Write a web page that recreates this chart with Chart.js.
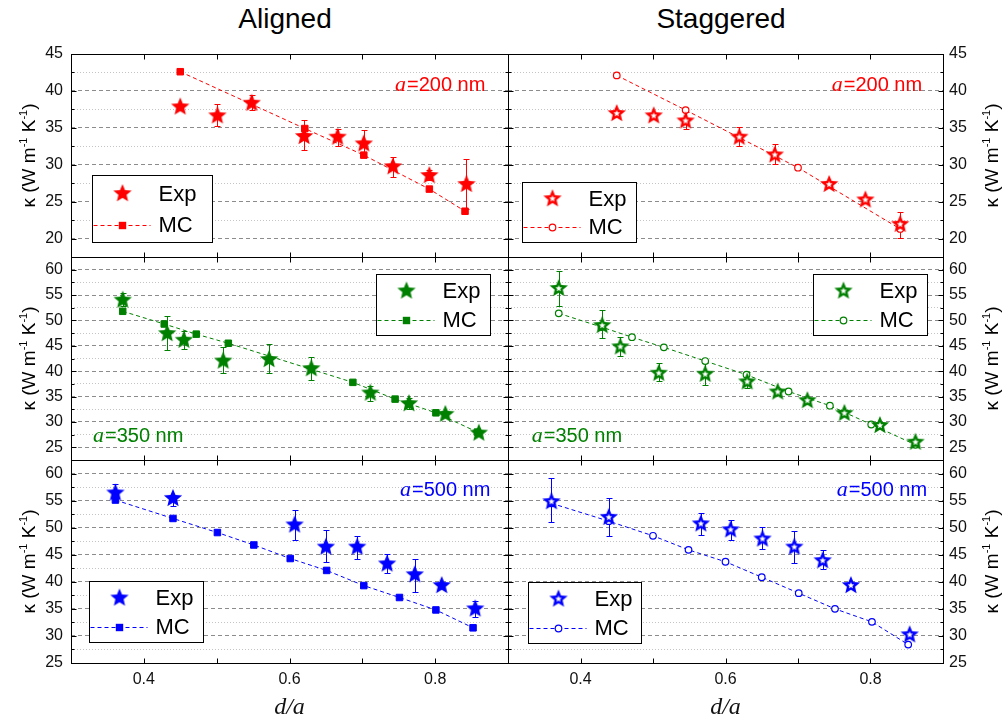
<!DOCTYPE html>
<html>
<head>
<meta charset="utf-8">
<script src="https://cdn.jsdelivr.net/npm/chart.js@4.4.1/dist/chart.umd.min.js"></script>
<style>
  body { margin: 0; background: #fff; }
  #wrap { position: relative; width: 1004px; height: 720px; overflow: hidden; font-family: 'Liberation Sans', Arial, sans-serif; }
  #wrap canvas { position: absolute; }
  .head { position: absolute; top: 3px; width: 300px; text-align: center; font-size: 28px; line-height: 32px; color: #000; }
</style>
</head>
<body>
<div id="wrap">
  <div class="head" style="left:135px">Aligned</div>
  <div class="head" style="left:571px">Staggered</div>
  <canvas id="pTL"></canvas>
  <canvas id="pTR"></canvas>
  <canvas id="pML"></canvas>
  <canvas id="pMR"></canvas>
  <canvas id="pBL"></canvas>
  <canvas id="pBR"></canvas>
</div>
<script>
/* ---------- data ---------- */
const xTickLabels = [0.4, 0.6, 0.8];
const yTicksTop = [20, 25, 30, 35, 40, 45];
const yTicksMid = [25, 30, 35, 40, 45, 50, 55, 60];
const yTicksBot = [25, 30, 35, 40, 45, 50, 55, 60];
const pitches = ['200', '350', '500'];

// a = 200 nm, aligned
const alRedExpX = [0.450, 0.501, 0.548, 0.620, 0.666, 0.702, 0.742, 0.792, 0.843];
const alRedExpY = [37.9, 36.7, 38.4, 33.9, 33.8, 32.9, 29.8, 28.6, 27.4];
const alRedHi   = [null, 38.2, 39.4, 36.0, 34.9, 34.7, 31.1, 29.3, 30.8];
const alRedLo   = [null, 35.2, 37.4, 32.0, 32.5, 31.1, 28.4, 27.9, 24.0];
const alRedMcX  = [0.450, 0.621, 0.702, 0.792, 0.841];
const alRedMcY  = [42.6, 34.9, 31.3, 26.7, 23.7];

// a = 200 nm, staggered
const stRedExpX = [0.450, 0.501, 0.545, 0.619, 0.668, 0.743, 0.793, 0.841];
const stRedExpY = [37.0, 36.7, 36.0, 33.8, 31.4, 27.4, 25.3, 22.0];
const stRedHi   = [null, null, 37.2, 35.1, 32.8, null, null, 23.6];
const stRedLo   = [null, null, 34.8, 32.5, 30.1, null, null, 20.1];
const stRedMcX  = [0.450, 0.545, 0.700, 0.841];
const stRedMcY  = [42.1, 37.4, 29.6, 21.3];

// a = 350 nm, aligned
const alGrnExpX = [0.371, 0.432, 0.455, 0.509, 0.572, 0.630, 0.711, 0.764, 0.814, 0.860];
const alGrnExpY = [54.1, 47.5, 46.2, 42.1, 42.4, 40.6, 35.8, 33.7, 31.6, 27.9];
const alGrnHi   = [55.4, 50.8, 48.0, 44.7, 45.3, 42.7, 37.0, 34.8, null, null];
const alGrnLo   = [52.8, 44.2, 44.3, 39.7, 39.6, 38.3, 34.2, 32.5, null, null];
const alGrnMcX  = [0.371, 0.428, 0.472, 0.516, 0.687, 0.745, 0.801, 0.858];
const alGrnMcY  = [51.8, 49.3, 47.3, 45.5, 37.8, 34.5, 31.8, 28.0];

// a = 350 nm, staggered
const stGrnExpX = [0.370, 0.430, 0.455, 0.508, 0.572, 0.630, 0.672, 0.713, 0.764, 0.813, 0.862];
const stGrnExpY = [56.4, 49.1, 44.9, 39.7, 39.5, 38.0, 36.0, 34.3, 31.8, 29.4, 26.1];
const stGrnHi   = [59.7, 52.0, 46.7, 41.6, 41.6, 39.8, null, null, null, null, null];
const stGrnLo   = [52.8, 46.5, 42.9, 38.0, 37.2, 36.7, null, null, null, null, null];
const stGrnMcX  = [0.370, 0.429, 0.471, 0.515, 0.572, 0.629, 0.687, 0.744, 0.801, 0.862];
const stGrnMcY  = [51.4, 48.7, 46.7, 44.7, 42.0, 39.3, 36.0, 33.2, 29.5, 25.5];

// a = 500 nm, aligned
const alBluExpX = [0.361, 0.440, 0.607, 0.650, 0.693, 0.734, 0.772, 0.809, 0.855];
const alBluExpY = [56.5, 55.5, 50.6, 46.5, 46.5, 43.4, 41.4, 39.4, 35.1];
const alBluHi   = [58.0, null, 53.2, 49.6, 48.5, 45.1, 44.2, null, 36.4];
const alBluLo   = [55.5, 54.0, 47.8, 43.7, 44.2, 41.6, 38.2, null, 33.5];
const alBluMcX  = [0.361, 0.440, 0.501, 0.551, 0.601, 0.651, 0.702, 0.751, 0.801, 0.852];
const alBluMcY  = [55.1, 51.7, 49.1, 46.8, 44.3, 42.1, 39.3, 37.1, 34.8, 31.5];

// a = 500 nm, staggered
const stBluExpX = [0.360, 0.439, 0.566, 0.607, 0.651, 0.695, 0.734, 0.773, 0.854];
const stBluExpY = [54.9, 52.0, 50.8, 49.7, 48.0, 46.5, 44.0, 39.4, 30.3];
const stBluHi   = [59.2, 55.5, 52.8, 51.4, 50.1, 49.4, 45.8, null, null];
const stBluLo   = [51.0, 48.5, 48.6, 47.7, 46.0, 43.4, 42.3, null, null];
const stBluMcX  = [0.360, 0.439, 0.500, 0.549, 0.600, 0.650, 0.701, 0.751, 0.802, 0.852];
const stBluMcY  = [54.5, 51.2, 48.5, 45.9, 43.7, 40.85, 37.9, 35.0, 32.6, 28.4];

/* ---------- layout ---------- */
const RED = '#ff0000', GREEN = '#008000', BLUE = '#0000ff';
const SANS = "'Liberation Sans', Arial, sans-serif";
const SERIF = "'Liberation Serif', 'Times New Roman', serif";
Chart.defaults.font.family = SANS;

// paddings are kept above the tick-label overhang so the plot areas land on
// x: 71 / 508 / 943 and y: 54 / 257 / 460 / 663
const cols = [
  { left: 0, width: 518, pad: { left: 0, right: 10 }, yPos: 'left', yW: 71, titleX: 30 },
  { left: 498, width: 506, pad: { left: 10, right: 0 }, yPos: 'right', yW: 61, titleX: 495 }
];
const rows = [
  { top: 34, height: 243, pad: { top: 20, bottom: 20 } },
  { top: 237, height: 243, pad: { top: 20, bottom: 20 } },
  { top: 440, height: 280, pad: { top: 20, bottom: 0 } }
];

const panels = [
  { id: 'pTL', col: 0, row: 0, color: RED, hollow: false,
    expX: alRedExpX, expY: alRedExpY, hi: alRedHi, lo: alRedLo, mcX: alRedMcX, mcY: alRedMcY,
    yMin: 17.5, yMax: 45, yTicks: yTicksTop, pitch: pitches[0],
    leg: { x: 20.7, y: 121, w: 120, h: 66.7 }, note: { x: 324, y: 36.5 } },
  { id: 'pTR', col: 1, row: 0, color: RED, hollow: true,
    expX: stRedExpX, expY: stRedExpY, hi: stRedHi, lo: stRedLo, mcX: stRedMcX, mcY: stRedMcY,
    yMin: 17.5, yMax: 45, yTicks: yTicksTop, pitch: pitches[0],
    leg: { x: 13.7, y: 127.7, w: 114, h: 60 }, note: { x: 323.7, y: 36.5 } },
  { id: 'pML', col: 0, row: 1, color: GREEN, hollow: false,
    expX: alGrnExpX, expY: alGrnExpY, hi: alGrnHi, lo: alGrnLo, mcX: alGrnMcX, mcY: alGrnMcY,
    yMin: 22.5, yMax: 62.5, yTicks: yTicksMid, pitch: pitches[1],
    leg: { x: 304.7, y: 17, w: 113.6, h: 61 }, note: { x: 22, y: 185 } },
  { id: 'pMR', col: 1, row: 1, color: GREEN, hollow: true,
    expX: stGrnExpX, expY: stGrnExpY, hi: stGrnHi, lo: stGrnLo, mcX: stGrnMcX, mcY: stGrnMcY,
    yMin: 22.5, yMax: 62.5, yTicks: yTicksMid, pitch: pitches[1],
    leg: { x: 305.3, y: 17, w: 114.4, h: 61 }, note: { x: 23.7, y: 185 } },
  { id: 'pBL', col: 0, row: 2, color: BLUE, hollow: false,
    expX: alBluExpX, expY: alBluExpY, hi: alBluHi, lo: alBluLo, mcX: alBluMcX, mcY: alBluMcY,
    yMin: 25, yMax: 62.5, yTicks: yTicksBot, pitch: pitches[2],
    leg: { x: 18.3, y: 121, w: 114, h: 60.7 }, note: { x: 329, y: 35.5 } },
  { id: 'pBR', col: 1, row: 2, color: BLUE, hollow: true,
    expX: stBluExpX, expY: stBluExpY, hi: stBluHi, lo: stBluLo, mcX: stBluMcX, mcY: stBluMcY,
    yMin: 25, yMax: 62.5, yTicks: yTicksBot, pitch: pitches[2],
    leg: { x: 19.7, y: 121.7, w: 113.3, h: 60.6 }, note: { x: 328.7, y: 35.5 } }
];
const byId = {};
panels.forEach(p => byId[p.id] = p);

/* ---------- star markers ---------- */
function starPath(g, cx, cy, R, r) {
  g.beginPath();
  for (let i = 0; i < 10; i++) {
    const rad = i % 2 ? r : R;
    const a = -Math.PI / 2 + i * Math.PI / 5;
    g.lineTo(cx + rad * Math.cos(a), cy + rad * Math.sin(a));
  }
  g.closePath();
}
function makeStar(color, hollow) {
  const c = document.createElement('canvas');
  c.width = c.height = 22;
  const g = c.getContext('2d');
  g.fillStyle = color;
  starPath(g, 11, 11.5, 9.6, 4.3);
  g.fill();
  if (hollow) {
    g.fillStyle = '#fff';
    starPath(g, 11, 11.5, 3.4, 1.5);
    g.fill();
  }
  return c;
}

function drawMcMarker(ctx, p, x, y) {
  ctx.setLineDash([]);
  if (p.hollow) {
    ctx.beginPath(); ctx.arc(x, y, 3.3, 0, Math.PI * 2);
    ctx.fillStyle = '#fff'; ctx.fill();
    ctx.lineWidth = 1.2; ctx.strokeStyle = p.color; ctx.stroke();
  } else {
    ctx.fillStyle = p.color;
    ctx.fillRect(x - 3.7, y - 3.7, 7.4, 7.4);
  }
}

function drawKappa(ctx, cx, cy) {
  const parts = [
    { t: 'κ (W m', size: 19, dy: 0 },
    { t: '-1', size: 11, dy: -8 },
    { t: ' K', size: 19, dy: 0 },
    { t: '-1', size: 11, dy: -8 },
    { t: ')', size: 19, dy: 0 }
  ];
  ctx.save();
  ctx.translate(cx, cy);
  ctx.rotate(-Math.PI / 2);
  ctx.fillStyle = '#000';
  ctx.textBaseline = 'alphabetic';
  let total = 0;
  parts.forEach(s => { ctx.font = s.size + 'px ' + SANS; s.w = ctx.measureText(s.t).width; total += s.w; });
  let u = -total / 2;
  parts.forEach(s => { ctx.font = s.size + 'px ' + SANS; ctx.fillText(s.t, u, 5 + s.dy); u += s.w; });
  ctx.restore();
}

/* ---------- decorations plugin: error bars, frame, ticks, legend, labels ---------- */
const deco = {
  id: 'deco',
  beforeDatasetsDraw(chart) {
    const p = byId[chart.canvas.id], ctx = chart.ctx;
    const xs = chart.scales.x, ys = chart.scales.y;
    ctx.save();
    ctx.strokeStyle = p.color;
    ctx.lineWidth = 1;
    p.expX.forEach((xv, i) => {
      const px = Math.round(xs.getPixelForValue(xv)) + 0.5;
      const py = ys.getPixelForValue(p.expY[i]);
      [p.hi[i], p.lo[i]].forEach(v => {
        if (v == null) return;
        const q = Math.round(ys.getPixelForValue(v)) + 0.5;
        ctx.beginPath();
        ctx.moveTo(px, py); ctx.lineTo(px, q);
        ctx.moveTo(px - 3, q); ctx.lineTo(px + 3, q);
        ctx.stroke();
      });
    });
    ctx.restore();
  },
  afterDatasetsDraw(chart) {
    const p = byId[chart.canvas.id], ctx = chart.ctx;
    const xs = chart.scales.x, ys = chart.scales.y;
    const a = chart.chartArea;
    const L = Math.round(a.left) + 0.5, R = Math.round(a.right) + 0.5;
    const T = Math.round(a.top) + 0.5, B = Math.round(a.bottom) + 0.5;
    ctx.save();
    // frame + inward ticks
    ctx.strokeStyle = '#000';
    ctx.lineWidth = 1;
    ctx.setLineDash([]);
    ctx.strokeRect(L, T, R - L, B - T);
    ctx.beginPath();
    xs.ticks.forEach(t => {
      const x = Math.round(xs.getPixelForValue(t.value)) + 0.5;
      if (x <= L + 1 || x >= R - 1) return;
      ctx.moveTo(x, B); ctx.lineTo(x, B - 5);
      ctx.moveTo(x, T); ctx.lineTo(x, T + 5);
    });
    ys.ticks.forEach(t => {
      const y = Math.round(ys.getPixelForValue(t.value)) + 0.5;
      if (y <= T + 1 || y >= B - 1) return;
      const len = p.yTicks.includes(t.value) ? 5 : 3;
      ctx.moveTo(L, y); ctx.lineTo(L + len, y);
      ctx.moveTo(R, y); ctx.lineTo(R - len, y);
    });
    ctx.stroke();

    // legend box
    const lg = p.leg;
    const bx = Math.round(a.left + lg.x) + 0.5, by = Math.round(a.top + lg.y) + 0.5;
    const bw = Math.round(lg.w), bh = Math.round(lg.h);
    ctx.fillStyle = '#fff';
    ctx.fillRect(bx, by, bw, bh);
    ctx.strokeStyle = '#000';
    ctx.strokeRect(bx, by, bw, bh);
    const sy = by + bh * 0.27, my = by + bh * 0.74, mx = bx + 30;
    ctx.drawImage(p.star, mx - 11, sy - 11.5);
    ctx.strokeStyle = p.color;
    ctx.lineWidth = 1;
    ctx.setLineDash([4, 3]);
    ctx.beginPath(); ctx.moveTo(bx + 1, Math.round(my) + 0.5); ctx.lineTo(bx + 58, Math.round(my) + 0.5); ctx.stroke();
    drawMcMarker(ctx, p, mx, Math.round(my) + 0.5);
    ctx.fillStyle = '#000';
    ctx.font = '22px ' + SANS;
    ctx.textBaseline = 'middle';
    ctx.fillText('Exp', bx + 66, sy + 1);
    ctx.fillText('MC', bx + 66, my + 1);

    // a = ... nm label
    ctx.fillStyle = p.color;
    ctx.textBaseline = 'alphabetic';
    const nx = a.left + p.note.x, ny = a.top + p.note.y;
    ctx.font = 'italic 22px ' + SERIF;
    ctx.fillText('a', nx, ny);
    const aw = ctx.measureText('a').width;
    ctx.font = '20px ' + SANS;
    ctx.fillText('=' + p.pitch + ' nm', nx + aw + 1, ny);
    ctx.restore();

    drawKappa(ctx, cols[p.col].titleX, (a.top + a.bottom) / 2);
  }
};

/* ---------- build charts ---------- */
const pts = (xs, ys) => xs.map((x, i) => ({ x, y: ys[i] }));

panels.forEach(p => {
  const col = cols[p.col], row = rows[p.row];
  const el = document.getElementById(p.id);
  el.width = col.width; el.height = row.height;
  el.style.left = col.left + 'px'; el.style.top = row.top + 'px';
  el.style.width = col.width + 'px'; el.style.height = row.height + 'px';
  p.star = makeStar(p.color, p.hollow);
  const isBottom = p.row === 2;
  const major = v => p.yTicks.includes(v);

  new Chart(el, {
    type: 'scatter',
    data: {
      datasets: [
        { label: 'Exp', data: pts(p.expX, p.expY), showLine: false,
          pointStyle: p.star, pointRadius: 10 },
        { label: 'MC', data: pts(p.mcX, p.mcY), showLine: true,
          borderColor: p.color, borderWidth: 1, borderDash: [4, 3],
          pointStyle: p.hollow ? 'circle' : 'rect',
          pointRadius: p.hollow ? 3.3 : 4.6,
          pointBackgroundColor: p.hollow ? '#fff' : p.color,
          pointBorderColor: p.color,
          pointBorderWidth: p.hollow ? 1.2 : 1 }
      ]
    },
    options: {
      responsive: false,
      animation: false,
      events: [],
      layout: {
        autoPadding: false,
        padding: { left: col.pad.left, right: col.pad.right, top: row.pad.top, bottom: row.pad.bottom }
      },
      plugins: { legend: { display: false }, tooltip: { enabled: false } },
      scales: {
        x: {
          type: 'linear', min: 0.3, max: 0.9,
          ticks: {
            stepSize: 0.1, autoSkip: false, maxRotation: 0, display: isBottom,
            padding: 7, color: '#111', font: { size: 16 },
            callback: v => {
              const r = Math.round(v * 10) / 10;
              return xTickLabels.includes(r) ? r.toFixed(1) : '';
            }
          },
          grid: { drawOnChartArea: false, drawTicks: false },
          border: { display: false },
          title: { display: isBottom, text: 'd/a', color: '#111', padding: 0,
                   font: { family: SERIF, style: 'italic', size: 24, lineHeight: 1 } },
          afterFit(s) { s.height = isBottom ? 57 : 0; }
        },
        y: {
          type: 'linear', position: col.yPos, min: p.yMin, max: p.yMax,
          ticks: {
            stepSize: 2.5, autoSkip: false, padding: col.yPos === 'left' ? 8 : 6,
            color: '#111', font: { size: 16 },
            callback: v => major(v) ? String(v) : ''
          },
          grid: {
            drawTicks: false, lineWidth: 1,
            color: c => (c.tick && major(c.tick.value)) ? '#8c8c8c' : '#c4c4c4'
          },
          border: {
            display: false,
            dash: c => (c.tick && major(c.tick.value)) ? [4, 3] : [1, 2]
          },
          afterFit(s) { s.width = col.yW; }
        }
      }
    },
    plugins: [deco]
  });
});
</script>
</body>
</html>
